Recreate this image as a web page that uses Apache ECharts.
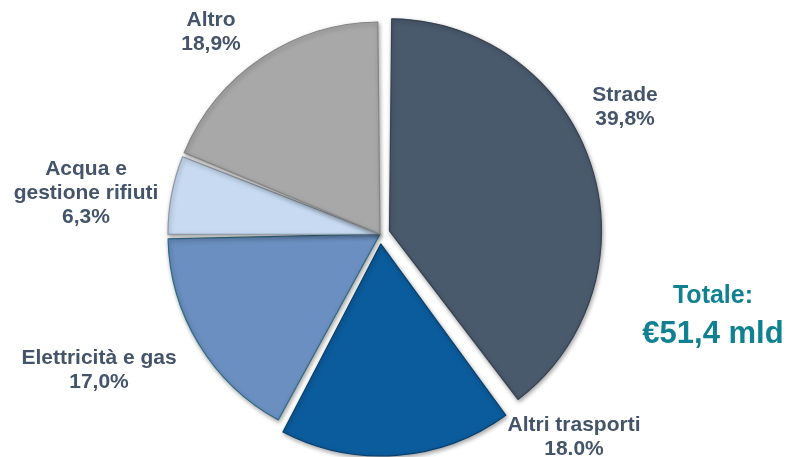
<!DOCTYPE html>
<html>
<head>
<meta charset="utf-8">
<script src="https://cdn.jsdelivr.net/npm/echarts@6/dist/echarts.min.js"></script>
<style>
  html, body { margin: 0; padding: 0; background: #ffffff; }
  #chart { width: 788px; height: 457px; }
</style>
</head>
<body>
<div id="chart"></div>
<script>
// Shares of investment by sector (%), clockwise from 12 o'clock
const categories = ['Strade', 'Altri trasporti', 'Elettricità e gas', 'Acqua e\ngestione rifiuti', 'Altro'];
const shares = [39.8, 18.0, 17.0, 6.3, 18.9];
const decimalMarks = [',', '.', ',', ',', ','];
const pulledOut = [true, true, false, false, false];
const totalLabel = 'Totale:';
const totalValue = '€51,4 mld';

// Slice fills and outlines
const fills = ['#4a5a6d', '#0b5c9d', '#6a8fc0', '#c7daf1', '#a8a8a8'];
const outlines = ['#34414f', '#083f6c', '#2f6a80', '#8d99a6', '#858585'];
// Label anchor points (pixel centres of each label block)
const labelSpots = [[625, 107], [574, 437], [99, 370], [86, 193], [211, 32]];

const FONT = "'Liberation Sans', Arial, sans-serif";
const TEXT = '#44546a';
const CENTER = [380, 234];
const RADIUS = 212;

const chart = echarts.init(document.getElementById('chart'), null, { renderer: 'canvas' });

const sliceData = categories.map((name, i) => {
  const style = {
    color: fills[i],
    borderColor: outlines[i],
    borderWidth: 1.2,
    shadowBlur: 4,
    shadowColor: 'rgba(0,0,0,0.35)',
    shadowOffsetX: 1,
    shadowOffsetY: 2
  };
  return {
    name: name,
    value: shares[i],
    selected: pulledOut[i],
    itemStyle: style,
    select: { itemStyle: style }
  };
});

const labelData = categories.map((name, i) => ({ name: name, value: shares[i] }));

chart.setOption({
  animation: false,
  backgroundColor: '#ffffff',
  series: [
    {
      // the slices
      type: 'pie',
      center: CENTER,
      radius: [0, RADIUS],
      startAngle: 90,
      clockwise: true,
      padAngle: 1.2,
      selectedMode: 'multiple',
      selectedOffset: 10,
      emphasis: { disabled: true },
      label: { show: false },
      labelLine: { show: false },
      data: sliceData
    },
    {
      // category names and shares
      type: 'pie',
      silent: true,
      center: CENTER,
      radius: [0, RADIUS],
      startAngle: 90,
      clockwise: true,
      emphasis: { disabled: true },
      itemStyle: { color: 'transparent', borderWidth: 0 },
      data: labelData,
      label: {
        show: true,
        position: 'outside',
        overflow: 'none',
        color: TEXT,
        fontFamily: FONT,
        fontWeight: 'bold',
        fontSize: 21,
        lineHeight: 24,
        align: 'center',
        formatter: p => p.name + '\n' +
          p.value.toFixed(1).replace('.', decimalMarks[p.dataIndex]) + '%'
      },
      labelLine: { show: false },
      labelLayout: p => ({
        x: labelSpots[p.dataIndex][0],
        y: labelSpots[p.dataIndex][1],
        align: 'center',
        verticalAlign: 'middle'
      })
    }
  ],
  graphic: [
    {
      type: 'text',
      x: 713, y: 296,
      style: {
        text: totalLabel,
        fill: '#0f8191',
        font: 'bold 25px ' + FONT,
        textAlign: 'center',
        textVerticalAlign: 'middle'
      }
    },
    {
      type: 'text',
      x: 713, y: 334,
      style: {
        text: totalValue,
        fill: '#0f8191',
        font: 'bold 31px ' + FONT,
        textAlign: 'center',
        textVerticalAlign: 'middle'
      }
    }
  ]
});
</script>
</body>
</html>
